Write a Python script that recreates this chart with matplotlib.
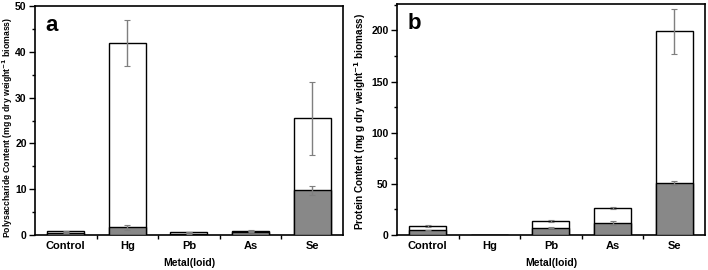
import matplotlib.pyplot as plt
import numpy as np

plt.rcParams['font.family'] = ['Liberation Sans', 'DejaVu Sans']
plt.rcParams['font.weight'] = 'bold'

metals = ["Control", "Hg", "Pb", "As", "Se"]

# polysaccharide (panel a): total (white) and fraction (grey)
poly_total = [0.8, 42.0, 0.6, 0.9, 25.5]
poly_total_err = [0.1, 5.0, 0.05, 0.1, 8.0]
poly_part = [0.5, 1.7, 0.3, 0.7, 9.8]
poly_part_err = [0.1, 0.5, 0.05, 0.15, 1.0]

# protein (panel b), no data for Hg
prot_total = [9.0, 0.0, 14.0, 26.5, 199.0]
prot_total_err = [0.8, np.nan, 0.8, 0.8, 22.0]
prot_part = [4.5, 0.0, 7.0, 12.0, 51.0]
prot_part_err = [0.6, np.nan, 0.5, 2.0, 2.0]

fig = plt.figure(figsize=(7.08, 2.70), dpi=100)
ax1 = fig.add_axes([0.0494, 0.1296, 0.435, 0.848])
ax2 = fig.add_axes([0.5607, 0.1296, 0.435, 0.856])

x = np.arange(len(metals))
err_kw = dict(ecolor="#7f7f7f", capsize=2, elinewidth=1, capthick=0.8)


def draw(ax, total, total_err, part, part_err, ymax, major, ylabel, ysize, xpos, ypos, letter):
    ax.bar(x, total, 0.6, color="white", edgecolor="black", linewidth=1,
           yerr=total_err, error_kw=err_kw, zorder=2)
    ax.bar(x, part, 0.6, color="#888888", edgecolor="black", linewidth=1,
           yerr=part_err, error_kw=err_kw, zorder=3)
    ax.set_xlim(-0.5, 4.5)
    ax.set_ylim(0, ymax)
    ax.set_xticks(x)
    ax.set_xticklabels(metals, fontsize=8, fontweight="bold")
    ax.set_xticks(x[:-1] + 0.5, minor=True)
    ax.set_yticks(np.arange(0, ymax + 0.1, major))
    ax.set_yticks(np.arange(major / 2, ymax, major), minor=True)
    ax.tick_params(axis="x", which="major", length=0, pad=4)
    ax.tick_params(axis="x", which="minor", length=3, direction="out", width=1)
    ax.tick_params(axis="y", which="major", length=4, direction="out", width=1, labelsize=7.5, pad=2)
    ax.tick_params(axis="y", which="minor", length=2, direction="out", width=1)
    for lab in ax.get_yticklabels():
        lab.set_fontweight("bold")
    for s in ax.spines.values():
        s.set_linewidth(1.2)
    ax.set_xlabel("Metal(loid)", fontsize=7.5, fontweight="bold", labelpad=5)
    ax.set_ylabel(ylabel, fontsize=ysize, fontweight="bold")
    ax.yaxis.set_label_coords(xpos, ypos)
    ax.text(0.035, 0.96, letter, transform=ax.transAxes, fontsize=16,
            fontweight="bold", va="top", ha="left")


draw(ax1, poly_total, poly_total_err, poly_part, poly_part_err, 50, 10,
     "Polysaccharide Content (mg g dry weight$^{\\mathbf{-1}}$ biomass)", 6.2, -0.066, 0.47, "a")
draw(ax2, prot_total, prot_total_err, prot_part, prot_part_err, 226, 50,
     "Protein Content (mg g dry weight$^{\\mathbf{-1}}$ biomass)", 7.2, -0.095, 0.49, "b")

fig.savefig("out.png", dpi=100)
